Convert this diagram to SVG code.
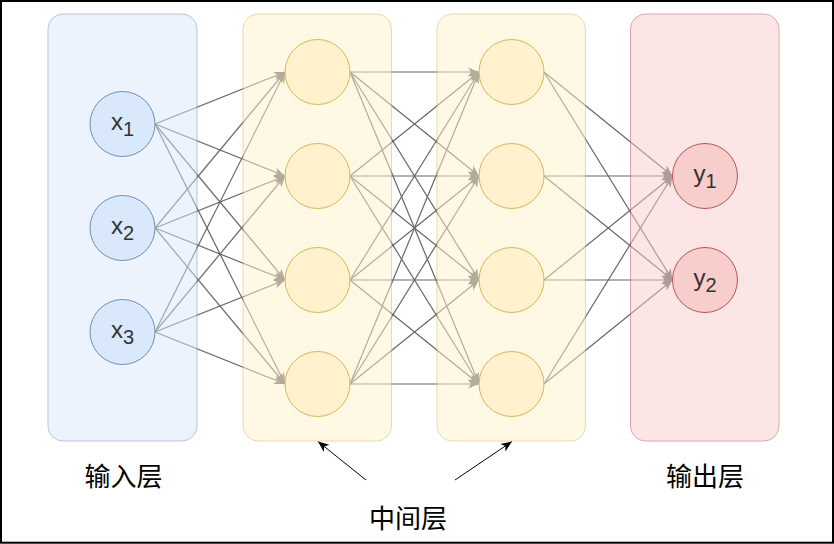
<svg xmlns="http://www.w3.org/2000/svg" width="834" height="544" viewBox="0 0 834 544">
<defs>
<style>
.edge{stroke:#666;stroke-width:1.2;fill:none;marker-end:url(#ah)}
.box{stroke-width:1;opacity:0.5}
.in{fill:#dae8fc;stroke:#6c8ebf}
.hid{fill:#fff2cc;stroke:#d6b656}
.out{fill:#f8cecc;stroke:#b85450}
.lbl{font-family:"Liberation Sans",Arial,sans-serif;font-size:24px;fill:#333;text-anchor:middle}
.cap{font-family:"Noto Sans CJK SC",sans-serif;font-size:26px;fill:#000;text-anchor:middle}
.pt{stroke:#000;stroke-width:1;fill:none;marker-end:url(#bh)}
</style>
<marker id="ah" markerUnits="userSpaceOnUse" markerWidth="12" markerHeight="10" refX="11" refY="4.5" orient="auto" overflow="visible">
<path d="M0,0 L11,4.5 L0,9 L3,4.5 Z" fill="#666"/>
</marker>
<marker id="bh" markerUnits="userSpaceOnUse" markerWidth="12" markerHeight="10" refX="11" refY="4.5" orient="auto" overflow="visible">
<path d="M0,0 L11,4.5 L0,9 L3,4.5 Z" fill="#000"/>
</marker>
</defs>
<rect x="1" y="1" width="832" height="541.7" fill="#fff" stroke="#000" stroke-width="2"/>
<g id="connectors">
<line class="edge" x1="155" y1="124" x2="285" y2="72"/>
<line class="edge" x1="155" y1="124" x2="285" y2="176"/>
<line class="edge" x1="155" y1="124" x2="285" y2="280"/>
<line class="edge" x1="155" y1="124" x2="285" y2="384"/>
<line class="edge" x1="155" y1="228" x2="285" y2="72"/>
<line class="edge" x1="155" y1="228" x2="285" y2="176"/>
<line class="edge" x1="155" y1="228" x2="285" y2="280"/>
<line class="edge" x1="155" y1="228" x2="285" y2="384"/>
<line class="edge" x1="155" y1="332" x2="285" y2="72"/>
<line class="edge" x1="155" y1="332" x2="285" y2="176"/>
<line class="edge" x1="155" y1="332" x2="285" y2="280"/>
<line class="edge" x1="155" y1="332" x2="285" y2="384"/>
<line class="edge" x1="350" y1="72" x2="479" y2="72"/>
<line class="edge" x1="350" y1="72" x2="479" y2="176"/>
<line class="edge" x1="350" y1="72" x2="479" y2="280"/>
<line class="edge" x1="350" y1="72" x2="479" y2="384"/>
<line class="edge" x1="350" y1="176" x2="479" y2="72"/>
<line class="edge" x1="350" y1="176" x2="479" y2="176"/>
<line class="edge" x1="350" y1="176" x2="479" y2="280"/>
<line class="edge" x1="350" y1="176" x2="479" y2="384"/>
<line class="edge" x1="350" y1="280" x2="479" y2="72"/>
<line class="edge" x1="350" y1="280" x2="479" y2="176"/>
<line class="edge" x1="350" y1="280" x2="479" y2="280"/>
<line class="edge" x1="350" y1="280" x2="479" y2="384"/>
<line class="edge" x1="350" y1="384" x2="479" y2="72"/>
<line class="edge" x1="350" y1="384" x2="479" y2="176"/>
<line class="edge" x1="350" y1="384" x2="479" y2="280"/>
<line class="edge" x1="350" y1="384" x2="479" y2="384"/>
<line class="edge" x1="544" y1="72" x2="672.5" y2="176"/>
<line class="edge" x1="544" y1="72" x2="672.5" y2="280"/>
<line class="edge" x1="544" y1="176" x2="672.5" y2="176"/>
<line class="edge" x1="544" y1="176" x2="672.5" y2="280"/>
<line class="edge" x1="544" y1="280" x2="672.5" y2="176"/>
<line class="edge" x1="544" y1="280" x2="672.5" y2="280"/>
<line class="edge" x1="544" y1="384" x2="672.5" y2="176"/>
<line class="edge" x1="544" y1="384" x2="672.5" y2="280"/>
<line class="pt" x1="366" y1="480" x2="318" y2="441.5"/>
<line class="pt" x1="455" y1="480" x2="512" y2="441.5"/>
</g>
<g id="input-layer">
<rect class="box in" x="48" y="14" width="149" height="427" rx="15"/>
</g>
<g id="hidden-layer-1">
<rect class="box hid" x="243" y="14" width="148.5" height="427" rx="15"/>
</g>
<g id="hidden-layer-2">
<rect class="box hid" x="437" y="14" width="148.5" height="427" rx="15"/>
</g>
<g id="output-layer">
<rect class="box out" x="630.5" y="14" width="148.5" height="427" rx="15"/>
</g>
<g id="x1"><circle class="in" cx="122.5" cy="124" r="32.5"/><text class="lbl" x="122.5" y="130">x<tspan font-size="20" dy="6">1</tspan></text></g>
<g id="x2"><circle class="in" cx="122.5" cy="228" r="32.5"/><text class="lbl" x="122.5" y="234">x<tspan font-size="20" dy="6">2</tspan></text></g>
<g id="x3"><circle class="in" cx="122.5" cy="332" r="32.5"/><text class="lbl" x="122.5" y="338">x<tspan font-size="20" dy="6">3</tspan></text></g>
<g id="h1-1"><circle class="hid" cx="317.5" cy="72" r="32.5"/></g>
<g id="h1-2"><circle class="hid" cx="317.5" cy="176" r="32.5"/></g>
<g id="h1-3"><circle class="hid" cx="317.5" cy="280" r="32.5"/></g>
<g id="h1-4"><circle class="hid" cx="317.5" cy="384" r="32.5"/></g>
<g id="h2-1"><circle class="hid" cx="511.5" cy="72" r="32.5"/></g>
<g id="h2-2"><circle class="hid" cx="511.5" cy="176" r="32.5"/></g>
<g id="h2-3"><circle class="hid" cx="511.5" cy="280" r="32.5"/></g>
<g id="h2-4"><circle class="hid" cx="511.5" cy="384" r="32.5"/></g>
<g id="y1"><circle class="out" cx="705" cy="176" r="32.5"/><text class="lbl" x="705" y="182">y<tspan font-size="20" dy="6">1</tspan></text></g>
<g id="y2"><circle class="out" cx="705" cy="280" r="32.5"/><text class="lbl" x="705" y="286">y<tspan font-size="20" dy="6">2</tspan></text></g>
<g id="captions">
<text class="cap" x="123.5" y="486">输入层</text>
<text class="cap" x="408" y="528">中间层</text>
<text class="cap" x="705" y="486">输出层</text>
</g>
</svg>
